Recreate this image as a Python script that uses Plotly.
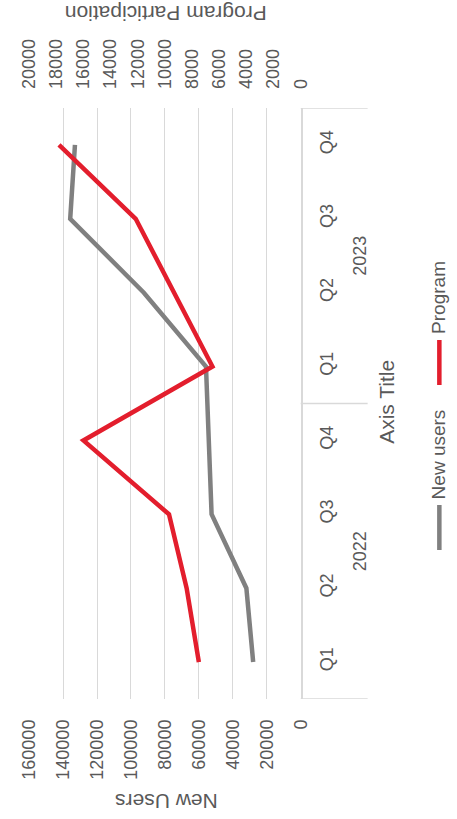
import plotly.graph_objects as go

# ---- data -------------------------------------------------------------
years = ["2022", "2023"]
quarters = ["Q1", "Q2", "Q3", "Q4"]
new_users = [28000, 32000, 52500, 54000, 55800, 92400, 135800, 133000]
program = [7500, 8400, 9700, 16000, 6500, 9300, 12150, 17800]
users_ticks = [0, 20000, 40000, 60000, 80000, 100000, 120000, 140000, 160000]
program_ticks = [0, 2000, 4000, 6000, 8000, 10000, 12000, 14000, 16000, 18000, 20000]
series_names = ["New users", "Program"]
users_title = "New Users"
program_title = "Program Participation"
category_title = "Axis Title"

# ---- page geometry (pixels) ------------------------------------------
W, H = 457, 819
PLOT_LEFT, PLOT_RIGHT = 20, 304
PLOT_TOP, PLOT_BOTTOM = 108, 699
GRAY, RED = "#808080", "#e31e2d"
TEXT = "#595959"
LINE = "#d9d9d9"
FONT = "Liberation Sans, Arial, sans-serif"


def fx(p):
    return p / W


def fy(p):
    return 1 - p / H


n = len(years) * len(quarters)
pos = list(range(n))
tick_text = quarters * len(years)

fig = go.Figure()
fig.add_trace(go.Scatter(
    x=new_users, y=pos, name=series_names[0], mode="lines",
    line=dict(color=GRAY, width=4.5), xaxis="x", yaxis="y", showlegend=False,
))
fig.add_trace(go.Scatter(
    x=program, y=pos, name=series_names[1], mode="lines",
    line=dict(color=RED, width=4.5), xaxis="x2", yaxis="y", showlegend=False,
))

tickfont = dict(family=FONT, size=18, color=TEXT)

fig.update_layout(
    width=W, height=H,
    margin=dict(l=0, r=0, t=0, b=0),
    paper_bgcolor="white", plot_bgcolor="white",
    font=dict(family=FONT, color=TEXT),
    xaxis=dict(
        domain=[fx(PLOT_LEFT), fx(PLOT_RIGHT)],
        range=[users_ticks[-1], users_ticks[0]],
        tickvals=users_ticks, ticktext=[str(v) for v in users_ticks],
        tickangle=-90, tickfont=tickfont, ticks="", ticklabelstandoff=16,
        showgrid=True, gridcolor=LINE, gridwidth=1.3,
        zeroline=False, showline=False, anchor="y", side="bottom",
    ),
    xaxis2=dict(
        range=[program_ticks[-1], program_ticks[0]],
        tickvals=program_ticks, ticktext=[str(v) for v in program_ticks],
        tickangle=-90, tickfont=tickfont, ticks="", ticklabelstandoff=18,
        showgrid=False, zeroline=False, showline=False,
        overlaying="x", anchor="y", side="top",
    ),
    yaxis=dict(
        domain=[fy(PLOT_BOTTOM), fy(PLOT_TOP)],
        range=[-0.5, n - 0.5],
        tickvals=pos, ticktext=tick_text,
        tickangle=-90, tickfont=tickfont, ticks="", ticklabelstandoff=9,
        showgrid=False, zeroline=False,
        showline=True, linecolor=LINE, linewidth=1.5,
        anchor="x", side="right",
    ),
)

shapes = []
# year group dividers beside the category axis
for b in range(len(years) + 1):
    yb = b * len(quarters) - 0.5
    shapes.append(dict(
        type="line", xref="paper", yref="y",
        x0=fx(PLOT_RIGHT), x1=fx(374), y0=yb, y1=yb,
        line=dict(color=LINE, width=1.5),
    ))

annotations = []
# year labels centred under their quarters
for i, yr in enumerate(years):
    annotations.append(dict(
        text=yr, xref="paper", yref="y",
        x=fx(366), y=i * len(quarters) + (len(quarters) - 1) / 2,
        textangle=-90, showarrow=False, font=dict(size=18, color=TEXT),
        xanchor="center", yanchor="middle",
    ))

# axis titles
annotations.append(dict(
    text=category_title, xref="paper", yref="paper",
    x=fx(393), y=fy(402), textangle=-90, showarrow=False,
    font=dict(size=21, color=TEXT), xanchor="center", yanchor="middle",
))
annotations.append(dict(
    text=users_title, xref="paper", yref="paper",
    x=fx(163), y=fy(802), textangle=180, showarrow=False,
    font=dict(size=21, color=TEXT), xanchor="center", yanchor="middle",
))
annotations.append(dict(
    text=program_title, xref="paper", yref="paper",
    x=fx(163), y=fy(14), textangle=180, showarrow=False,
    font=dict(size=21, color=TEXT), xanchor="center", yanchor="middle",
))

# legend drawn along the right edge
legend_items = [(series_names[0], GRAY, 550, 505), (series_names[1], RED, 385, 340)]
for name, color, y_start, y_end in legend_items:
    shapes.append(dict(
        type="line", xref="paper", yref="paper",
        x0=fx(449), x1=fx(449), y0=fy(y_start), y1=fy(y_end),
        line=dict(color=color, width=4.5),
    ))
    annotations.append(dict(
        text=name, xref="paper", yref="paper",
        x=fx(448), y=fy(y_end - 4), textangle=-90, showarrow=False,
        font=dict(size=19, color=TEXT), xanchor="center", yanchor="bottom",
    ))

fig.update_layout(shapes=shapes, annotations=annotations)

fig.write_html("out.html")
